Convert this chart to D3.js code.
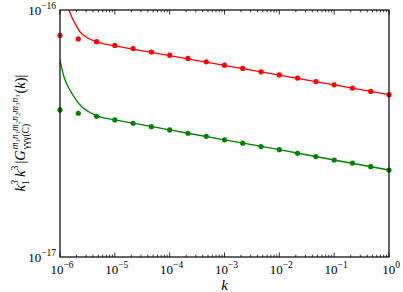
<!DOCTYPE html>
<html>
<head>
<meta charset="utf-8">
<script src="https://cdn.jsdelivr.net/npm/d3@7"></script>
<style>
  body { margin: 0; background: #fff; }
  svg text { font-family: "Liberation Serif", "DejaVu Serif", serif; fill: #000; }
</style>
</head>
<body>
<div id="chart"></div>
<script>
// sampled k values for the dots: 10^-6 ... 10^0, three per decade
const kExp = [-6, -5.667, -5.333, -5, -4.667, -4.333, -4, -3.667, -3.333, -3,
              -2.667, -2.333, -2, -1.667, -1.333, -1, -0.667, -0.333, 0];

const redDots = [7.89e-17, 7.64e-17, 7.44e-17, 7.19e-17, 6.98e-17, 6.76e-17, 6.56e-17,
                 6.37e-17, 6.17e-17, 5.98e-17, 5.80e-17, 5.62e-17, 5.46e-17, 5.30e-17,
                 5.13e-17, 4.98e-17, 4.83e-17, 4.68e-17, 4.54e-17];
const greenDots = [3.94e-17, 3.82e-17, 3.71e-17, 3.59e-17, 3.48e-17, 3.37e-17, 3.27e-17,
                   3.17e-17, 3.08e-17, 2.98e-17, 2.89e-17, 2.80e-17, 2.72e-17, 2.63e-17,
                   2.55e-17, 2.47e-17, 2.40e-17, 2.32e-17, 2.25e-17];

// solid curves
const redLineK = [1.46e-6, 1.63e-6, 1.88e-6, 2.32e-6, 3.28e-6, 4.67e-6, 6.6e-6, 1e-5, 1e-4, 1e-3, 1e-2, 1e-1, 1];
const redLineV = [1.0e-16, 9.4e-17, 8.83e-17, 8.16e-17, 7.68e-17, 7.44e-17, 7.28e-17, 7.16e-17,
                  6.53e-17, 5.97e-17, 5.45e-17, 4.98e-17, 4.54e-17];
const greenLineK = [1e-6, 1.18e-6, 1.52e-6, 1.88e-6, 2.49e-6, 3.28e-6, 4.67e-6, 7.1e-6, 1e-5, 1e-4, 1e-3, 1e-2, 1e-1, 1];
const greenLineV = [6.28e-17, 5.37e-17, 4.74e-17, 4.39e-17, 4.06e-17, 3.88e-17, 3.73e-17, 3.64e-17, 3.59e-17,
                    3.27e-17, 2.98e-17, 2.72e-17, 2.47e-17, 2.25e-17];

const xTickExp = [-6, -5, -4, -3, -2, -1, 0];
const yTickExp = [-17, -16];

const width = 403, height = 292;
const margin = {top: 10, right: 14, bottom: 35, left: 60};
const w = width - margin.left - margin.right;
const h = height - margin.top - margin.bottom;

const svg = d3.select("#chart").append("svg")
    .attr("width", width)
    .attr("height", height);

const g = svg.append("g")
    .attr("transform", `translate(${margin.left},${margin.top})`);

const x = d3.scaleLog().domain([1e-6, 1]).range([0, w]);
const y = d3.scaleLog().domain([1e-17, 1e-16]).range([h, 0]);

// clip to the plotting area
g.append("clipPath").attr("id", "clip")
    .append("rect").attr("width", w).attr("height", h);

const plot = g.append("g").attr("clip-path", "url(#clip)");

let line = d3.line()
    .curve(d3.curveMonotoneX)
    .x(d => x(d[0]))
    .y(d => y(d[1]));

plot.append("path")
    .attr("d", line(d3.zip(redLineK, redLineV)))
    .attr("fill", "none").attr("stroke", "#ff0000").attr("stroke-width", 1.3);

plot.append("path")
    .attr("d", line(d3.zip(greenLineK, greenLineV)))
    .attr("fill", "none").attr("stroke", "#008000").attr("stroke-width", 1.3);

const dotsG = g.append("g");
dotsG.selectAll(".red").data(d3.zip(kExp, redDots)).enter().append("circle")
    .attr("cx", d => x(Math.pow(10, d[0])))
    .attr("cy", d => y(d[1]))
    .attr("r", 2.6)
    .attr("fill", "#ff0000");
dotsG.selectAll(".green").data(d3.zip(kExp, greenDots)).enter().append("circle")
    .attr("cx", d => x(Math.pow(10, d[0])))
    .attr("cy", d => y(d[1]))
    .attr("r", 2.6)
    .attr("fill", "#008000");

// ticks (inward, top and bottom)
const majorK = xTickExp.map(e => Math.pow(10, e));
let minorK = [];
xTickExp.slice(0, -1).forEach(e => {
    for (let m = 2; m <= 9; m++) minorK.push(m * Math.pow(10, e));
});

const ticks = g.append("g").attr("stroke", "#000").attr("stroke-width", 0.8);
[[majorK, 4.5], [minorK, 2.3]].forEach(([vals, len]) => {
    vals.forEach(v => {
        ticks.append("line").attr("x1", x(v)).attr("x2", x(v)).attr("y1", h).attr("y2", h - len);
        ticks.append("line").attr("x1", x(v)).attr("x2", x(v)).attr("y1", 0).attr("y2", len);
    });
});

// frame
g.append("rect")
    .attr("width", w).attr("height", h)
    .attr("fill", "none").attr("stroke", "#000").attr("stroke-width", 1.2);

// x tick labels
const xl = g.append("g").attr("font-size", 13);
xTickExp.forEach(e => {
    let t = xl.append("text")
        .attr("x", x(Math.pow(10, e)) + 2)
        .attr("y", h + 17)
        .attr("text-anchor", "middle");
    t.append("tspan").text("10");
    t.append("tspan").attr("dy", -6).attr("font-size", 9.5).text(e === 0 ? "0" : "\u2212" + Math.abs(e));
});

// y tick labels
yTickExp.forEach(e => {
    let t = g.append("text")
        .attr("x", -4)
        .attr("y", y(Math.pow(10, e)) + 5)
        .attr("text-anchor", "end")
        .attr("font-size", 13);
    t.append("tspan").text("10");
    t.append("tspan").attr("dy", -6).attr("font-size", 9.5).text("\u2212" + Math.abs(e));
});

// x label
g.append("text")
    .attr("x", w / 2)
    .attr("y", h + 33)
    .attr("text-anchor", "middle")
    .attr("font-size", 15)
    .attr("font-style", "italic")
    .text("k");

// y label, laid out piece by piece
const yl = svg.append("g");
let cur = 0;
function piece(txt, opt) {
    let t = yl.append("text")
        .attr("x", cur)
        .attr("y", opt.dy || 0)
        .attr("font-size", opt.size || 14.5)
        .attr("font-style", opt.it ? "italic" : "normal")
        .text(txt);
    return t.node().getComputedTextLength();
}
function stack(sup, sub, size) {
    let a = piece(sup, {size: size, dy: -7, it: true});
    let b = piece(sub, {size: size, dy: 4, it: false});
    cur += Math.max(a, b) + 1;
}
cur += piece("k", {it: true});
stack("3", "1", 10);
cur += 2;
cur += piece("k", {it: true});
cur += piece("3", {size: 10, dy: -7});
cur += 2;
cur += piece("|", {});
cur += piece("G", {it: true}) + 1;
stack("m\u2081n\u2081m\u2082n\u2082m\u2083n\u2083", "\u03b3\u03b3\u03b3(C)", 9.5);
cur += piece("(", {});
cur += piece("k", {it: true});
cur += piece(")|", {});
// centre the label on the axis
const total = cur;
yl.attr("transform", `translate(25,${133 + total / 2}) rotate(-90)`);
</script>
</body>
</html>
